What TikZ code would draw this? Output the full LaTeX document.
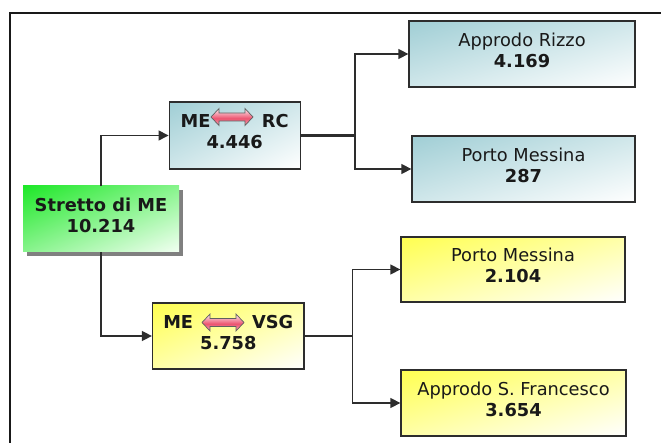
\documentclass[tikz,border=0pt]{standalone}
\usepackage{fontspec}
\setmainfont{DejaVu Sans}
\usetikzlibrary{arrows.meta,shadows}

\definecolor{edge}{RGB}{45,45,45}
\definecolor{ink}{RGB}{25,25,25}
\definecolor{pinkT}{RGB}{255,238,242}
\definecolor{pinkM}{RGB}{236,84,112}
\definecolor{pinkB}{RGB}{244,170,184}
\pgfdeclareverticalshading{pinkarrow}{100bp}{color(0bp)=(pinkB); color(25bp)=(pinkB); color(46bp)=(pinkM); color(75bp)=(pinkT); color(100bp)=(pinkT)}

% diagonal fills: full colour in the upper left corner, fading to white towards the lower right
% t = (x - y + 50)/100, clamped to [0,1], then colour = c + t (1 - c)
\pgfdeclarefunctionalshading{diagblue}{\pgfpointorigin}{\pgfpoint{100bp}{100bp}}{}{
  sub 50 add 100 div dup 0 lt {pop 0} if dup 1 gt {pop 1} if
  dup 0.373 mul 0.627 add exch dup 0.192 mul 0.808 add exch 0.165 mul 0.835 add}
\pgfdeclarefunctionalshading{diaggreen}{\pgfpointorigin}{\pgfpoint{100bp}{100bp}}{}{
  sub 50 add 100 div dup 0 lt {pop 0} if dup 1 gt {pop 1} if
  dup 0.832 mul 0.118 add exch dup 0.090 mul 0.910 add exch 0.793 mul 0.157 add}
\pgfdeclarefunctionalshading{diagyellow}{\pgfpointorigin}{\pgfpoint{100bp}{100bp}}{}{
  sub 50 add 100 div dup 0 lt {pop 0} if dup 1 gt {pop 1} if
  1 exch 1 exch 0.686 mul 0.314 add}

\tikzset{
  box/.style={rectangle, inner sep=0pt, draw=edge, line width=1.3pt},
  bluebox/.style={box, shading=diagblue},
  yellowbox/.style={box, shading=diagyellow},
  greenbox/.style={rectangle, inner sep=0pt, shading=diaggreen,
    drop shadow={shadow xshift=4pt, shadow yshift=-4pt, fill=black!50, opacity=1}},
  label/.style={align=center, text=ink, font=\fontsize{17.8}{21}\selectfont, inner sep=0pt},
  conn/.style={draw=edge, line width=1.4pt, -{Triangle[length=10pt,width=10pt]}},
  trunk/.style={draw=edge, line width=2.2pt},
  dblarrow/.style={draw=gray!75!black, line width=0.7pt, shading=pinkarrow}
}

\begin{document}
\begin{tikzpicture}[x=1pt,y=1pt]
\useasboundingbox (0,-443) rectangle (661,0);

% outer frame, running off the right and bottom edges
\draw[line width=2pt, draw=ink] (10,-443) |- (661,-13);

% root
\node[greenbox, minimum width=156pt, minimum height=66pt] (stretto) at (101,-219) {};
\node[label] (stretto-t) at ([yshift=3.5pt]stretto.center) {\textbf{Stretto di ME}\\\textbf{10.214}};

% second level
\node[bluebox, minimum width=131pt, minimum height=67pt] (merc) at (234.7,-135.5) {};
\node[label] (merc-t) at ([yshift=3.5pt]merc.center) {\textbf{ME}\hspace{51.5pt}\textbf{RC}\\\textbf{4.446}};
\node[yellowbox, minimum width=151.5pt, minimum height=66pt] (mevsg) at (228.3,-336) {};
\node[label] (mevsg-t) at ([yshift=3.5pt]mevsg.center) {\textbf{ME}\hspace{59pt}\textbf{VSG}\\\textbf{5.758}};

% leaves
\node[bluebox, minimum width=226pt, minimum height=66pt] (rizzo) at (522,-54) {};
\node[label] (rizzo-t) at ([yshift=4pt]rizzo.center) {Approdo Rizzo\\\textbf{4.169}};
\node[bluebox, minimum width=223pt, minimum height=66pt] (pm1) at (523.5,-169) {};
\node[label] (pm1-t) at ([yshift=4pt]pm1.center) {Porto Messina\\\textbf{287}};
\node[yellowbox, minimum width=224pt, minimum height=65pt] (pm2) at (513,-269.5) {};
\node[label] (pm2-t) at ([yshift=4pt]pm2.center) {Porto Messina\\\textbf{2.104}};
\node[yellowbox, minimum width=225pt, minimum height=66pt] (sf) at (513.5,-403) {};
\node[label] (sf-t) at ([yshift=4pt]sf.center) {Approdo S. Francesco\\\textbf{3.654}};

% two-way arrows between the terminals
\coordinate (a1) at (232,-117);
\coordinate (a2) at (223,-322.5);
\foreach \c in {a1,a2}
  \path[dblarrow] ([shift={(-21,0)}]\c) -- ++(8,8.5) -- ++(0,-4.5) -- ++(26,0) -- ++(0,4.5)
    -- ++(8,-8.5) -- ++(-8,-8.5) -- ++(0,4.5) -- ++(-26,0) -- ++(0,-4.5) -- cycle;

% connectors
\coordinate (j1) at (355,-135.5);
\coordinate (j2) at (352.7,-336);
\draw[conn] (stretto.north) |- (merc.west);
\draw[conn] (stretto.south) |- (mevsg.west);
\draw[trunk] (merc.east) -- (j1);
\draw[trunk] (mevsg.east) -- (j2);
\draw[conn] (j1) |- (rizzo.west);
\draw[conn] (j1) |- (pm1.west);
\draw[conn] (j2) |- (pm2.west);
\draw[conn] (j2) |- (sf.west);
\end{tikzpicture}
\end{document}
